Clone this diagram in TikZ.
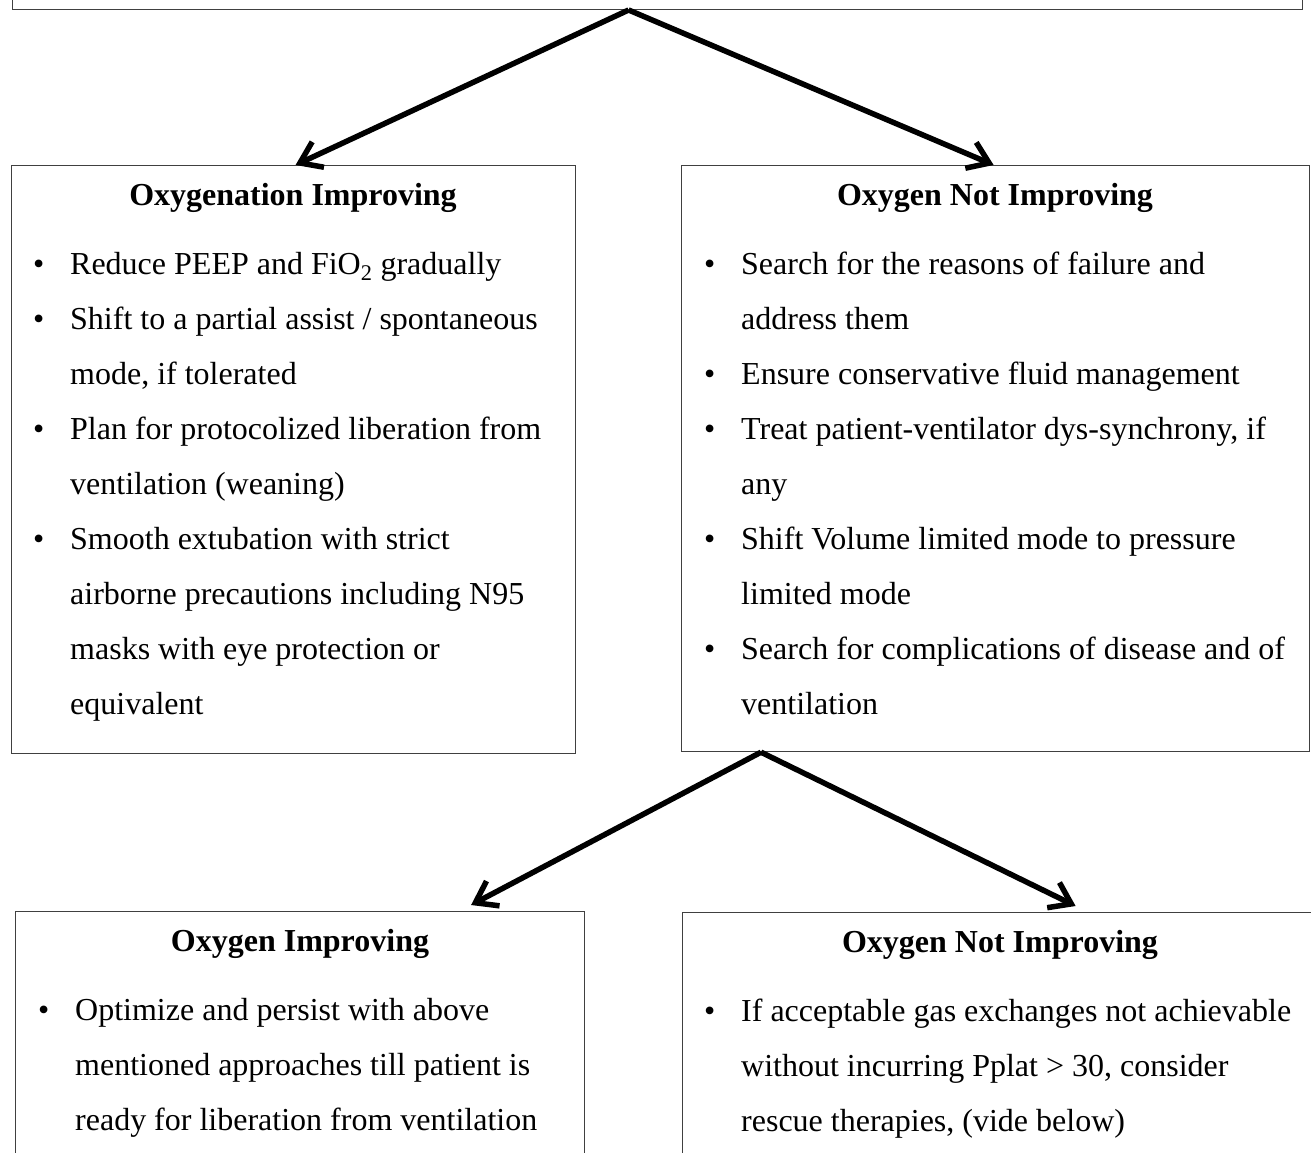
\documentclass[tikz,border=0pt]{standalone}
\usepackage{fontspec}
\setmainfont{Liberation Serif}
\usetikzlibrary{arrows.meta}

\newcommand{\itm}{\makebox[37pt][l]{\textbullet}}
\newcommand{\cnt}{\hspace*{37pt}}

\tikzset{
    box/.style={draw=black!75, line width=1.2pt, inner sep=0pt, anchor=north west},
    ttl/.style={anchor=base, inner sep=0pt, font=\fontsize{32}{38}\selectfont\bfseries},
    lst/.style={anchor=base west, inner sep=0pt, font=\fontsize{32}{55}\selectfont},
    arr/.style={line width=5.5pt, -{Straight Barb[length=20pt,width=28pt]}}
}

\begin{document}
\begin{tikzpicture}[x=1pt, y=-1pt]
    \useasboundingbox (0,0) rectangle (1311,1153);
    \clip (0,0) rectangle (1311,1153);

    % Draw the boxes
    \node[box, anchor=south west, minimum width=1290pt, minimum height=100pt] (start) at (12,10) {};
    \node[box, minimum width=564pt, minimum height=588pt] (oxyUp) at (11,165) {};
    \node[box, minimum width=628pt, minimum height=586pt] (oxyDown) at (681,165) {};
    \node[box, minimum width=569pt, minimum height=300pt] (keepUp) at (15,911) {};
    \node[box, minimum width=640pt, minimum height=300pt] (rescue) at (682,912) {};

    % Connect the boxes
    \draw[arr] ([xshift=-29pt]start.south) -- ([xshift=2pt]oxyUp.north);
    \draw[arr] ([xshift=-29pt]start.south) -- ([xshift=-2pt]oxyDown.north);
    \draw[arr] ([xshift=80pt]oxyDown.south west) -- ([xshift=171pt, yshift=6pt]keepUp.north);
    \draw[arr] ([xshift=80pt]oxyDown.south west) -- ([xshift=73pt, yshift=6pt]rescue.north);

    % Titles
    \node[ttl] (oxyUpTitle) at (293,205) {Oxygenation Improving};
    \node[ttl] (oxyDownTitle) at (995,205) {Oxygen Not Improving};
    \node[ttl] (keepUpTitle) at (300,951) {Oxygen Improving};
    \node[ttl] (rescueTitle) at (1000,952) {Oxygen Not Improving};

    % Bullet lists
    \node[lst] (oxyUpList) at (33,274) {\begin{tabular}[t]{@{}l@{}}
        \itm Reduce PEEP and FiO\textsubscript{2} gradually\\
        \itm Shift to a partial assist / spontaneous\\
        \cnt mode, if tolerated\\
        \itm Plan for protocolized liberation from\\
        \cnt ventilation (weaning)\\
        \itm Smooth extubation with strict\\
        \cnt airborne precautions including N95\\
        \cnt masks with eye protection or\\
        \cnt equivalent
    \end{tabular}};
    \node[lst] (oxyDownList) at (704,274) {\begin{tabular}[t]{@{}l@{}}
        \itm Search for the reasons of failure and\\
        \cnt address them\\
        \itm Ensure conservative fluid management\\
        \itm Treat patient-ventilator dys-synchrony, if\\
        \cnt any\\
        \itm Shift Volume limited mode to pressure\\
        \cnt limited mode\\
        \itm Search for complications of disease and of\\
        \cnt ventilation
    \end{tabular}};
    \node[lst] (keepUpList) at (38,1020) {\begin{tabular}[t]{@{}l@{}}
        \itm Optimize and persist with above\\
        \cnt mentioned approaches till patient is\\
        \cnt ready for liberation from ventilation
    \end{tabular}};
    \node[lst] (rescueList) at (704,1021) {\begin{tabular}[t]{@{}l@{}}
        \itm If acceptable gas exchanges not achievable\\
        \cnt without incurring Pplat > 30, consider\\
        \cnt rescue therapies, (vide below)
    \end{tabular}};

\end{tikzpicture}
\end{document}
